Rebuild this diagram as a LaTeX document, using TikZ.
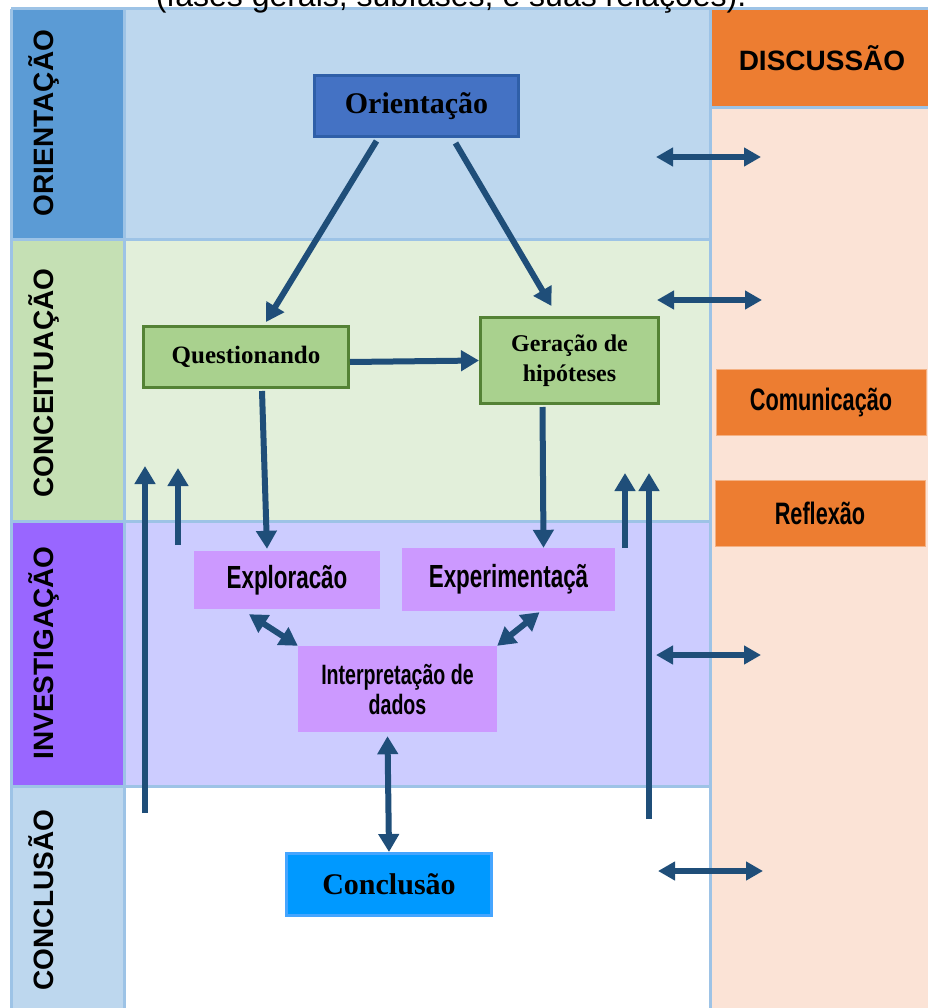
\documentclass[tikz,border=0pt]{standalone}
\usepackage{fontspec}
\setmainfont{Liberation Serif}
\setsansfont{Liberation Sans}
\newfontfamily\condsans[FakeStretch=0.7]{Liberation Sans}
\usepackage{tikz}
\usetikzlibrary{arrows.meta,calc,positioning}
\definecolor{oriL}{HTML}{5B9BD5}
\definecolor{oriM}{HTML}{BDD7EE}
\definecolor{conL}{HTML}{C5E0B4}
\definecolor{conM}{HTML}{E2EFDA}
\definecolor{invL}{HTML}{9966FF}
\definecolor{invM}{HTML}{CCCCFF}
\definecolor{cloL}{HTML}{BDD7EE}
\definecolor{discO}{HTML}{ED7D31}
\definecolor{discP}{HTML}{FBE3D6}
\definecolor{gridblue}{HTML}{9DC3E6}
\definecolor{arrowblue}{HTML}{1F4E79}
\definecolor{nodeblue}{HTML}{4472C4}
\definecolor{nodeblueline}{HTML}{2F5FA8}
\definecolor{nodegreen}{HTML}{A9D18E}
\definecolor{nodegreenline}{HTML}{548235}
\definecolor{nodepurple}{HTML}{CC99FF}
\definecolor{nodesky}{HTML}{0099FF}
\definecolor{nodeskyline}{HTML}{45A5FF}

\begin{document}
\begin{tikzpicture}[x=1pt,y=-1pt,
  gridline/.style={draw=gridblue,line width=3pt},
  phase/.style={rotate=90,anchor=base,font=\sffamily\bfseries\fontsize{28}{30}\selectfont},
  box/.style={rectangle,inner sep=0pt,align=center},
  serifbox/.style={box,line width=3pt,font=\bfseries\fontsize{#1}{30}\selectfont},
  condbox/.style={box,font=\condsans\bfseries\fontsize{#1}{30}\selectfont},
  flow/.style={draw=arrowblue,line width=6pt,-{Triangle[width=20pt,length=18pt]}},
  twoway/.style={flow,{Triangle[width=20pt,length=18pt]}-{Triangle[width=20pt,length=18pt]}},
  side/.style={draw=arrowblue,line width=6.5pt,{Triangle[width=18pt,length=17pt]}-{Triangle[width=18pt,length=17pt]}}]
  \clip (0,0) rectangle (928,1008);
  \useasboundingbox (0,0) rectangle (928,1008);

  % table of phases
  \fill[oriL] (11,9) rectangle (124,239);   \fill[oriM] (124,9) rectangle (710,239);
  \fill[conL] (11,239) rectangle (124,521); \fill[conM] (124,239) rectangle (710,521);
  \fill[invL] (11,521) rectangle (124,786); \fill[invM] (124,521) rectangle (710,786);
  \fill[cloL] (11,786) rectangle (124,1008);
  \fill[discO] (710,9) rectangle (928,108); \fill[discP] (710,108) rectangle (928,1008);
  \draw[gridline] (11,9) -- (928,9);
  \draw[gridline] (710,108) -- (928,108);
  \foreach \y in {239,521,786} \draw[gridline] (11,\y) -- (710,\y);
  \foreach \x in {11,124,710} \draw[gridline] (\x,9) -- (\x,1008);

  \node[anchor=base,font=\sffamily\fontsize{32}{34}\selectfont] (caption) at (451,7) {(fases gerais, subfases, e suas relações).};

  \node[phase] (lori) at (53,123) {ORIENTAÇÃO};
  \node[phase] (lcon) at (53,383) {CONCEITUAÇÃO};
  \node[phase] (linv) at (53,653) {INVESTIGAÇÃO};
  \node[phase] (lclo) at (53,900) {CONCLUSÃO};
  \node[font=\sffamily\bfseries\fontsize{28}{30}\selectfont] (disc) at (822,58) {DISCUSSÃO};

  % subphases
  \node[serifbox=30,fill=nodeblue,draw=nodeblueline,minimum width=204pt,minimum height=61pt] (orient) at (416.5,106) {Orientação};
  \node[serifbox=25,fill=nodegreen,draw=nodegreenline,minimum width=205pt,minimum height=61pt] (quest) at (246,357) {Questionando};
  \node[serifbox=24,fill=nodegreen,draw=nodegreenline,minimum width=178pt,minimum height=86pt] (hypo) at (569.5,360.5) {Geração de\\hipóteses};
  \node[condbox=32,fill=nodepurple,minimum width=186pt,minimum height=58pt] (explo) at (287,580) {Exploracão};
  \node[condbox=32,fill=nodepurple,minimum width=213pt,minimum height=63pt] (exper) at (508.5,579.5) {Experimentaçã};
  \node[condbox=28,fill=nodepurple,minimum width=199pt,minimum height=86pt] (interp) at (397.5,689) {Interpretação de\\dados};
  \node[serifbox=30,fill=nodesky,draw=nodeskyline,minimum width=205pt,minimum height=62pt] (concl) at (389,884.5) {Conclusão};
  \node[condbox=31,fill=discO,draw=discO!60,line width=1pt,minimum width=210pt,minimum height=66pt] (comm) at (821,402) {Comunicação};
  \node[condbox=31,fill=discO,draw=discO!60,line width=1pt,minimum width=210pt,minimum height=66pt] (refl) at (820,513) {Reflexão};

  % connectors
  \draw[flow] ([xshift=-40pt,yshift=-3pt]orient.south) -- ([xshift=20pt,yshift=3pt]quest.north);
  \draw[flow] ([xshift=39pt,yshift=-5pt]orient.south) -- ([xshift=-18pt,yshift=10pt]hypo.north);
  \draw[flow] ([yshift=-5pt]quest.east) -- (hypo.west);
  \draw[flow] ([xshift=16pt,yshift=-2pt]quest.south) -- ([xshift=-20pt,yshift=2pt]explo.north);
  \draw[flow] ([xshift=-27pt,yshift=-2pt]hypo.south) -- ([xshift=35pt]exper.north);
  \draw[twoway] ([xshift=-38pt,yshift=-5pt]explo.south) -- (interp.north west);
  \draw[twoway] ([xshift=31pt,yshift=-1pt]exper.south) -- (interp.north east);
  \draw[twoway] ([xshift=-10pt,yshift=-4pt]interp.south) -- (concl.north);

  % feedback arrows
  \coordinate (up1a) at (145,813); \coordinate (up1b) at (145,466);
  \coordinate (up2a) at (178,545); \coordinate (up2b) at (178,468);
  \coordinate (up3a) at (625,548); \coordinate (up3b) at (625,473);
  \coordinate (up4a) at (649,819); \coordinate (up4b) at (649,473);
  \draw[flow] (up1a) -- (up1b);
  \draw[flow] (up2a) -- (up2b);
  \draw[flow] (up3a) -- (up3b);
  \draw[flow] (up4a) -- (up4b);

  % links to the discussion column
  \coordinate (d1a) at (656,157); \coordinate (d1b) at (761,157);
  \coordinate (d2a) at (657,300); \coordinate (d2b) at (762,300);
  \coordinate (d3a) at (656,655); \coordinate (d3b) at (761,655);
  \coordinate (d4a) at (658,871); \coordinate (d4b) at (763,871);
  \draw[side] (d1a) -- (d1b);
  \draw[side] (d2a) -- (d2b);
  \draw[side] (d3a) -- (d3b);
  \draw[side] (d4a) -- (d4b);
\end{tikzpicture}
\end{document}
